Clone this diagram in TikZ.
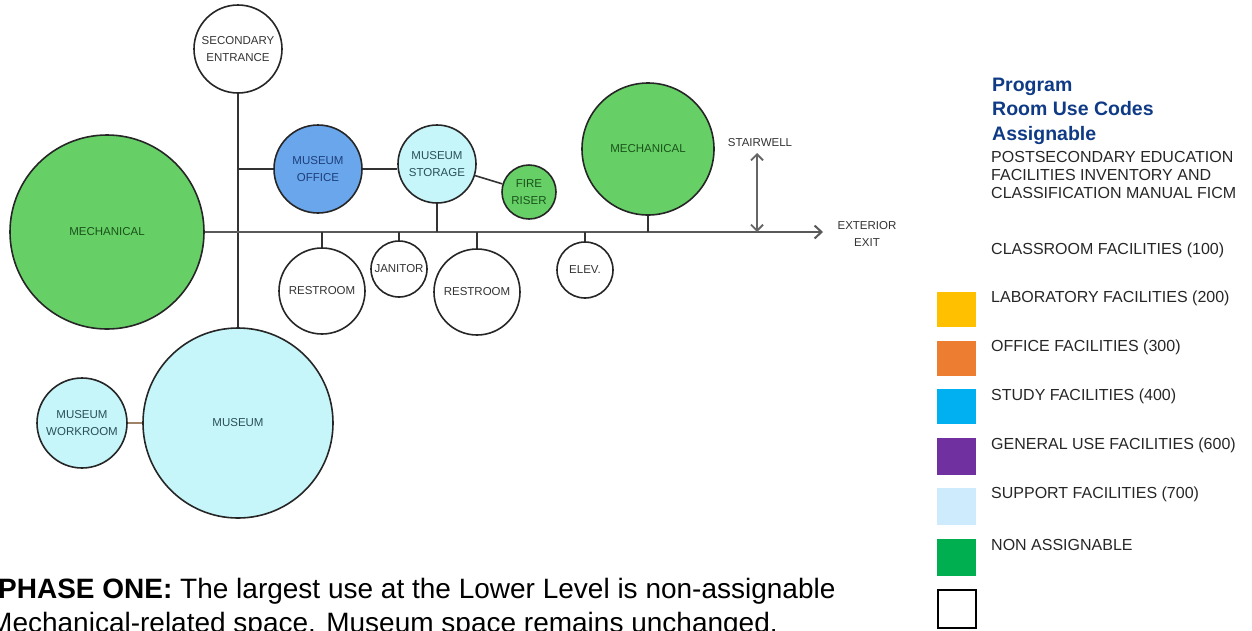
\documentclass[tikz,border=0pt]{standalone}
\usepackage{fontspec}
\setmainfont{Liberation Sans}
\usetikzlibrary{arrows.meta}

% fills of the rooms
\definecolor{mechgreen}{HTML}{66D066}
\definecolor{officeblue}{HTML}{6AA6EC}
\definecolor{supportcyan}{HTML}{C6F5FA}
% label inks
\definecolor{inkgrey}{HTML}{333333}
\definecolor{inkgreen}{HTML}{1A521A}
\definecolor{inkblue}{HTML}{1D3F7A}
\definecolor{inkteal}{HTML}{2A5058}
\definecolor{titleblue}{HTML}{0F3A85}
% legend swatches
\definecolor{swyellow}{HTML}{FFC000}
\definecolor{sworange}{HTML}{ED7D31}
\definecolor{swblue}{HTML}{00B0F0}
\definecolor{swpurple}{HTML}{7030A0}
\definecolor{swlight}{HTML}{CDEBFC}
\definecolor{swgreen}{HTML}{00B050}

\begin{document}
\begin{tikzpicture}[x=1pt,y=-1pt,
  room/.style={circle,draw=black!85,line width=1.6pt,inner sep=0pt,align=center,
    font=\fontsize{11.5}{17}\selectfont,minimum size=#1},
  plain/.style={room=#1,fill=white,text=inkgrey},
  mech/.style={room=#1,fill=mechgreen,text=inkgreen},
  support/.style={room=#1,fill=supportcyan,text=inkteal},
  link/.style={draw=black!80,line width=1.6pt},
  spine/.style={draw=black!65,line width=2.2pt},
  note/.style={font=\fontsize{11.5}{17}\selectfont,text=inkgrey,align=center},
  swatch/.style={minimum width=39pt,minimum height=#1,inner sep=0pt},
  legendtext/.style={anchor=base west,inner sep=0pt,font=\fontsize{16}{18}\selectfont,text=black!85},
  titletext/.style={anchor=base west,inner sep=0pt,font=\fontsize{19.5}{24}\selectfont\bfseries,text=titleblue},
  bodytext/.style={anchor=base west,inner sep=0pt,font=\fontsize{28}{32}\selectfont,text=black}
]
\useasboundingbox (0,0) rectangle (1252,630);
\clip (0,0) rectangle (1252,630);

% ---- rooms ----
\node[plain=88pt] (sec) at (238,49) {SECONDARY\\ENTRANCE};
\node[mech=194pt] (mechL) at (107,232) {MECHANICAL};
\node[room=88pt,fill=officeblue,text=inkblue] (office) at (318,169) {MUSEUM\\OFFICE};
\node[support=78pt] (storage) at (437,164) {MUSEUM\\STORAGE};
\node[mech=54pt] (riser) at (529,192) {FIRE\\RISER};
\node[mech=132pt] (mechR) at (648,149) {MECHANICAL};
\node[plain=86pt] (rest1) at (322,291) {RESTROOM};
\node[plain=56pt] (jan) at (399,269) {JANITOR};
\node[plain=86pt] (rest2) at (477,292) {RESTROOM};
\node[plain=56pt] (elev) at (585,270) {ELEV.};
\node[support=190pt] (museum) at (238,423) {MUSEUM};
\node[support=90pt] (work) at (82,423) {MUSEUM\\WORKROOM};

% ---- circulation ----
\coordinate (jOffice) at (238,169);
\coordinate (exit) at (823,232);
\coordinate (stairTop) at (757,153);
\coordinate (stairFoot) at (757,232);

\draw[link] (sec.south) -- (museum.north);
\draw[link] (jOffice) -- (office.west);
\draw[link] (office.east) -- (storage.west |- office.east);
\draw[link] (storage) -- (riser);
\draw[link,draw=brown!60!black!70] (work.east) -- (museum.west);

\draw[spine,-{Straight Barb[length=7pt,width=13pt,line width=2pt]}] (mechL.east) -- (exit);
\draw[link] (storage.south) -- (storage.south |- exit);
\draw[link] (mechR.south) -- (mechR.south |- exit);
\draw[link] (rest1.north |- exit) -- (rest1.north);
\draw[link] (jan.north |- exit) -- (jan.north);
\draw[link] (rest2.north |- exit) -- (rest2.north);
\draw[link] (elev.north |- exit) -- (elev.north);
\draw[draw=black!60,line width=2.2pt,{Straight Barb[length=6pt,width=12pt,line width=1.8pt]}-{Straight Barb[length=6pt,width=12pt,line width=1.8pt]}] (stairFoot) -- (stairTop);

\node[note] (stairLabel) at (760,143) {STAIRWELL};
\node[note] (exitLabel) at (867,234) {EXTERIOR\\EXIT};

% ---- legend ----
\node[titletext] (t1) at (992,91) {Program};
\node[titletext] (t2) at (992,115.5) {Room Use Codes};
\node[titletext] (t3) at (992,140) {Assignable};
\node[legendtext] (s1) at (991,162) {POSTSECONDARY EDUCATION};
\node[legendtext] (s2) at (991,180) {FACILITIES INVENTORY AND};
\node[legendtext] (s3) at (991,198) {CLASSIFICATION MANUAL FICM};

\node[legendtext] (l1) at (991,254) {CLASSROOM FACILITIES (100)};
\node[legendtext] (l2) at (991,302) {LABORATORY FACILITIES (200)};
\node[legendtext] (l3) at (991,351) {OFFICE FACILITIES (300)};
\node[legendtext] (l4) at (991,400) {STUDY FACILITIES (400)};
\node[legendtext] (l5) at (991,449) {GENERAL USE FACILITIES (600)};
\node[legendtext] (l6) at (991,498) {SUPPORT FACILITIES (700)};
\node[legendtext] (l7) at (991,550) {NON ASSIGNABLE};

\node[swatch=35pt,fill=swyellow] (c2) at (956.5,309.5) {};
\node[swatch=35pt,fill=sworange] (c3) at (956.5,358.5) {};
\node[swatch=35pt,fill=swblue] (c4) at (956.5,406.5) {};
\node[swatch=37pt,fill=swpurple] (c5) at (956.5,456.5) {};
\node[swatch=37pt,fill=swlight] (c6) at (956.5,506.5) {};
\node[swatch=37pt,fill=swgreen] (c7) at (956.5,557.5) {};
\node[swatch=38pt,minimum width=38pt,draw=black,line width=2pt,fill=white] (c8) at (956.5,609) {};

% ---- caption ----
\node[bodytext] (cap1) at (-2,598) {\textbf{PHASE ONE:} The largest use at the Lower Level is non-assignable};
\node[bodytext] (cap2) at (-11,632) {Mechanical-related space. Museum space remains unchanged.};
\end{tikzpicture}
\end{document}
